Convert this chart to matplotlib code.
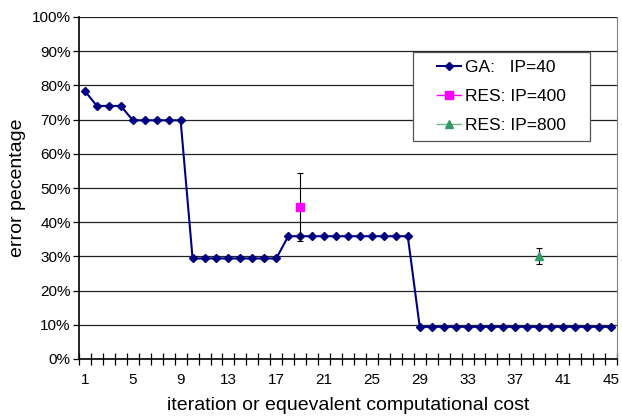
import numpy as np
import matplotlib
matplotlib.use("Agg")
import matplotlib.pyplot as plt
from matplotlib.patches import Rectangle
from matplotlib.ticker import FixedLocator, PercentFormatter

plt.rcParams['font.family'] = ['Liberation Sans', 'DejaVu Sans']

# GA run, one value per iteration (fractions)
iterations = np.arange(1, 46)
ga_error = ([0.783] + [0.740] * 3 + [0.698] * 5 + [0.294] * 8
            + [0.359] * 11 + [0.094] * 17)

# RES runs at equivalent cost
res400_x = [19]
res400_y = [0.445]
res400_lo = [0.100]
res400_hi = [0.100]

res800_x = [39]
res800_y = [0.300]
res800_lo = [0.023]
res800_hi = [0.026]

xtick_labels = list(range(1, 46, 4))

fig = plt.figure(figsize=(6.22, 4.18), dpi=100)
ax = fig.add_axes([79 / 622, 1 - 359 / 418, (617 - 79) / 622, (359 - 17) / 418])

ax.plot(iterations, ga_error, color='#000080', marker='D', markersize=4.3,
        linewidth=1.5, label='GA:   IP=40', zorder=3)
ax.errorbar(res400_x, res400_y, yerr=[res400_lo, res400_hi], fmt='none',
            ecolor='black', elinewidth=0.8, capsize=2.5, capthick=0.8, zorder=4)
ax.plot(res400_x, res400_y, color='#FF00FF', marker='s', markersize=5.5,
        linewidth=1, linestyle='none', label='RES: IP=400', zorder=5)
ax.errorbar(res800_x, res800_y, yerr=[res800_lo, res800_hi], fmt='none',
            ecolor='black', elinewidth=0.8, capsize=2.5, capthick=0.8, zorder=4)
ax.plot(res800_x, res800_y, color='#339966', marker='^', markersize=6,
        linewidth=1, linestyle='none', label='RES: IP=800', zorder=5)

ax.set_xlim(0.5, 45.5)
ax.set_ylim(0, 1.0)

ax.set_yticks(np.arange(0, 1.01, 0.1))
ax.yaxis.set_major_formatter(PercentFormatter(1.0, decimals=0))
ax.yaxis.grid(True, color='#222222', linewidth=0.9)
ax.set_axisbelow(True)

ax.set_xticks(xtick_labels)
ax.set_xticklabels([str(v) for v in xtick_labels])
ax.xaxis.set_minor_locator(FixedLocator(np.arange(0.5, 46, 1)))
ax.tick_params(axis='x', which='major', length=0, pad=10, labelsize=11)
ax.tick_params(axis='x', which='minor', direction='inout', length=8, width=0.9)
ax.tick_params(axis='y', which='major', direction='out', length=4, width=0.9,
               labelsize=11, pad=2)

for side in ['left', 'bottom']:
    ax.spines[side].set_color('black')
    ax.spines[side].set_linewidth(1.2)
ax.spines['right'].set_color('#808080')
ax.spines['top'].set_visible(False)

ax.set_xlabel('iteration or equevalent computational cost', fontsize=14, labelpad=7)
ax.set_ylabel('error pecentage', fontsize=14, labelpad=4)

# legend frame drawn separately so the padding can match the original
box_x0, box_x1 = (413 - 79) / 538, (590 - 79) / 538
box_y0, box_y1 = (359 - 141) / 342, (359 - 52) / 342
ax.add_patch(Rectangle((box_x0, box_y0), box_x1 - box_x0, box_y1 - box_y0,
                       transform=ax.transAxes, facecolor='white',
                       edgecolor='#555555', linewidth=0.9, zorder=6))

handles, labels = ax.get_legend_handles_labels()
leg = ax.legend(handles, labels, loc='center',
                bbox_to_anchor=((box_x0 + box_x1) / 2, (box_y0 + box_y1) / 2),
                frameon=False, fontsize=12.5, handlelength=1.4,
                handletextpad=0.25, labelspacing=0.8, borderpad=0.2)
leg.set_zorder(7)
for h in leg.legend_handles[1:]:
    h.set_linestyle('-')
    h.set_linewidth(1)
leg.legend_handles[1].set_color('#FF00FF')
leg.legend_handles[2].set_color('#66BB88')
leg.legend_handles[2].set_markerfacecolor('#339966')
leg.legend_handles[2].set_markeredgecolor('#339966')

fig.savefig('out.png', dpi=100)
